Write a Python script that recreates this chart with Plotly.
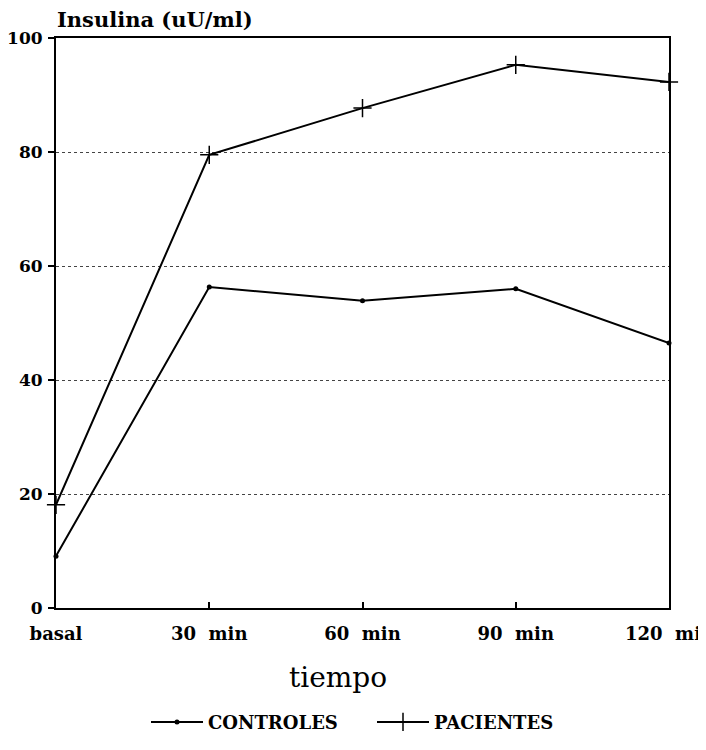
import plotly.graph_objects as go

tiempo = [0, 30, 60, 90, 120]
tick_labels = ["basal", "30\u00a0\u00a0min", "60\u00a0\u00a0min", "90\u00a0\u00a0min", "120\u00a0\u00a0mi"]
controles = [9.1, 56.3, 53.9, 56.0, 46.5]
pacientes = [18.1, 79.5, 87.7, 95.3, 92.3]

serif = "DejaVu Serif"

# page body has an 8px margin, so the figure is drawn at (8, 8)
W, H = 698, 742
L, R, T, B = 48, 37, 30, 142
pw, ph = W - L - R, H - T - B

fig = go.Figure()
fig.add_trace(go.Scatter(
    x=tiempo, y=controles, name="CONTROLES", mode="lines+markers",
    line=dict(color="black", width=2),
    marker=dict(symbol="circle", size=5, color="black"),
    cliponaxis=False,
))
fig.add_trace(go.Scatter(
    x=tiempo, y=pacientes, name="PACIENTES", mode="lines+markers",
    line=dict(color="black", width=2),
    marker=dict(symbol="cross-thin", size=13, color="black",
                line=dict(color="black", width=1.5)),
    cliponaxis=False,
))

tickfont = dict(family=serif, size=18, color="black", weight="bold")

fig.update_layout(
    width=W, height=H,
    paper_bgcolor="white", plot_bgcolor="white",
    margin=dict(l=L, r=R, t=T, b=B, autoexpand=False),
    font=dict(family=serif, color="black"),
    showlegend=True,
    legend=dict(orientation="h", x=(138 - L) / pw, xanchor="left", y=-0.168, yanchor="top",
                font=dict(family=serif, size=18, color="black", weight="bold"),
                itemwidth=52, entrywidthmode="pixels", entrywidth=159),
    xaxis=dict(
        range=[0, 120], tickvals=tiempo, ticktext=tick_labels[:-1] + [""],
        showline=True, linecolor="black", linewidth=2, mirror=True,
        ticks="inside", ticklen=6, tickcolor="black", tickwidth=1.5,
        showgrid=False, zeroline=False, automargin=False,
        tickfont=tickfont,
        ticklabelstandoff=8, ticklabeloverflow="allow",
    ),
    yaxis=dict(
        range=[0, 100], tickvals=[0, 20, 40, 60, 80, 100],
        showline=True, linecolor="black", linewidth=2, mirror=True,
        ticks="outside", ticklen=6, tickcolor="black", tickwidth=1.5,
        showgrid=True, gridcolor="#444444", gridwidth=1, griddash="dot",
        zeroline=False, automargin=False,
        tickfont=dict(family=serif, size=17, color="black", weight="bold"),
        ticklabelstandoff=2, ticklabeloverflow="allow",
    ),
    annotations=[
        dict(text="Insulina (uU/ml)", xref="paper", yref="paper", x=-1 / pw, y=1.0,
             xanchor="left", yanchor="bottom", yshift=4, showarrow=False,
             font=dict(family=serif, size=21, color="black", weight="bold")),
        dict(text="tiempo", xref="paper", yref="paper", x=(338 - 56) / pw, y=0,
             xanchor="center", yanchor="middle", yshift=-69, showarrow=False,
             font=dict(family=serif, size=28, color="black")),
        # last x tick label, pushed against the right edge as in the reference
        dict(text=tick_labels[-1], xref="paper", yref="paper", x=(695 - L) / pw, y=0,
             xanchor="right", yanchor="middle", yshift=-25, showarrow=False,
             font=tickfont),
    ],
)

fig.write_html("out.html")
